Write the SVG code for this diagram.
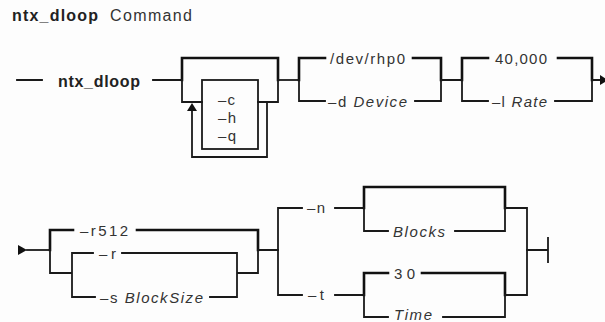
<svg xmlns="http://www.w3.org/2000/svg" width="605" height="322" viewBox="0 0 605 322">
<style>
.bg{fill:#fdfdfd}
.ln{fill:none;stroke:#1a1a1a;stroke-width:1.8;stroke-linecap:square;stroke-linejoin:miter}
.df{fill:none;stroke:#111;stroke-width:2.6;stroke-linecap:square;stroke-linejoin:miter}
.ah{fill:#111;stroke:none}
text{font-family:"Liberation Sans",Arial,sans-serif;font-size:15px;fill:#333}
.b{font-weight:bold;font-size:16px;fill:#222}
.t{font-size:16px}
.i{font-style:italic}
</style>
<rect class="bg" x="0" y="0" width="605" height="322"/>
<g id="title">
<text class="b" x="12" y="21" textLength="86" lengthAdjust="spacing">ntx_dloop</text>
<text class="t" x="110" y="21" textLength="82" lengthAdjust="spacing">Command</text>
</g>
<g id="connectors">
<path class="ln" d="M17,80H42M153,80H182"/>
<path class="df" d="M182,80V58H278V80"/>
<path class="ln" d="M182,80V102H202M258,102H278V80"/>
<path class="ln" d="M267,102V157H192V110"/>
<polygon class="ah" points="187,111 192,103 197,111"/>
<path class="ln" d="M278,80H299"/>
<path class="df" d="M299,80V58H325M413,58H441V80"/>
<path class="ln" d="M299,80V101H325M415,101H441V80M441,80H462"/>
<path class="df" d="M462,80V58H488M558,58H592V80"/>
<path class="ln" d="M462,80V101H488M555,101H592V80M592,80H605"/>
<polygon class="ah" points="600,75 608,80 600,85"/>
<polygon class="ah" points="18,245 27,250 18,255"/>
<path class="ln" d="M27,250H50"/>
<path class="df" d="M50,250V230H73M137,230H258V250"/>
<path class="ln" d="M50,250V273H72M72,273V253H93M122,253H237V273M72,273V297H95M210,297H237V273M237,273H258V250M258,250H278"/>
<path class="ln" d="M278,250V208H302M335,208H364M278,250V295H302M335,295H364"/>
<path class="df" d="M364,208V187H505V208"/>
<path class="ln" d="M364,208V231H388M455,231H505V208M505,208H527V250"/>
<path class="df" d="M364,295V273H388M422,273H505V295"/>
<path class="ln" d="M364,295V317H388M443,317H505V295M505,295H527V250M527,250H548M548,238V262"/>
</g>
<g id="n-cmd"><text class="b" x="58" y="87" textLength="82" lengthAdjust="spacing">ntx_dloop</text></g>
<g id="n-flags">
<rect class="ln" x="202" y="80" width="56" height="69"/>
<text x="218" y="104.5" textLength="17" lengthAdjust="spacing">–c</text>
<text x="218" y="122.5" textLength="18" lengthAdjust="spacing">–h</text>
<text x="218" y="140.5" textLength="18" lengthAdjust="spacing">–q</text>
</g>
<g id="n-dev"><text x="330" y="64" textLength="75" lengthAdjust="spacing">/dev/rhp0</text></g>
<g id="n-d"><text x="328" y="106.5" textLength="79" lengthAdjust="spacing">–d <tspan class="i">Device</tspan></text></g>
<g id="n-40000"><text x="495" y="64" textLength="52" lengthAdjust="spacing">40,000</text></g>
<g id="n-l"><text x="492" y="106.5" textLength="55" lengthAdjust="spacing">–l <tspan class="i">Rate</tspan></text></g>
<g id="n-r512"><text x="80" y="235.5" textLength="48" lengthAdjust="spacing">–r512</text></g>
<g id="n-r"><text x="99" y="258.5" textLength="17" lengthAdjust="spacing">–r</text></g>
<g id="n-s"><text x="100" y="302.5" textLength="103" lengthAdjust="spacing">–s <tspan class="i">BlockSize</tspan></text></g>
<g id="n-n"><text x="307" y="213" textLength="18" lengthAdjust="spacing">–n</text></g>
<g id="n-t"><text x="308" y="300" textLength="16" lengthAdjust="spacing">–t</text></g>
<g id="n-blocks"><text class="i" x="393" y="236.5" textLength="52" lengthAdjust="spacing">Blocks</text></g>
<g id="n-30"><text x="394" y="278.5" textLength="21" lengthAdjust="spacing">30</text></g>
<g id="n-time"><text class="i" x="394" y="320" textLength="38" lengthAdjust="spacing">Time</text></g>
</svg>
